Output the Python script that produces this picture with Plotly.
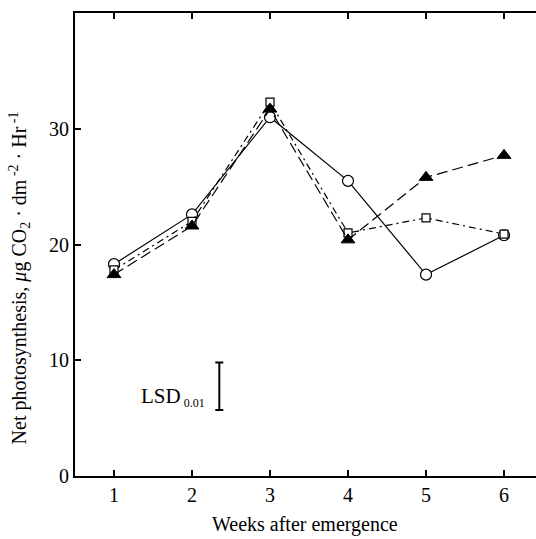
import plotly.graph_objects as go

weeks = [1, 2, 3, 4, 5, 6]
circle_vals = [18.3, 22.6, 31.0, 25.5, 17.4, 20.8]
square_vals = [17.8, 22.0, 32.3, 21.0, 22.3, 20.9]
triangle_vals = [17.4, 21.6, 31.7, 20.4, 25.8, 27.7]
lsd_value = 4.1
lsd_x = 2.35
lsd_center = 7.75

x_ticks = [1, 2, 3, 4, 5, 6]
y_ticks = [0, 10, 20, 30]

FONT = "Liberation Serif"
fig = go.Figure()

fig.add_trace(go.Scatter(
    x=weeks, y=circle_vals, mode="lines+markers",
    line=dict(color="black", width=1.2),
    marker=dict(symbol="circle", size=11, color="white", line=dict(color="black", width=1.2)),
    showlegend=False))
fig.add_trace(go.Scatter(
    x=weeks, y=square_vals, mode="lines+markers",
    line=dict(color="black", width=1.2, dash="7px,4px,2px,4px"),
    marker=dict(symbol="square", size=8, color="white", line=dict(color="black", width=1.2)),
    showlegend=False))
fig.add_trace(go.Scatter(
    x=weeks, y=triangle_vals, mode="lines+markers",
    line=dict(color="black", width=1.2, dash="11px,5px"),
    marker=dict(symbol="triangle-up", size=12, color="black", line=dict(color="black", width=1)),
    showlegend=False))

# LSD bar
fig.add_trace(go.Scatter(
    x=[lsd_x], y=[lsd_center], mode="markers",
    marker=dict(size=1, color="black", opacity=0),
    error_y=dict(type="data", array=[lsd_value / 2], visible=True,
                 color="black", thickness=2, width=4),
    showlegend=False, hoverinfo="skip"))

fig.add_annotation(
    x=lsd_x - 0.16, y=lsd_center - 0.9, xref="x", yref="y",
    text="LSD<sub><span style='font-size:12px'> 0.01</span></sub>", showarrow=False,
    xanchor="right", yanchor="middle",
    font=dict(family=FONT, size=21, color="black"))

fig.add_annotation(
    x=-55 / 461, y=(476 - 278) / 464, xref="paper", yref="paper",
    text="Net photosynthesis, <i>μ</i>g CO<sub>2</sub> · dm<sup> -2</sup> · Hr<sup> -1</sup>",
    textangle=-90, showarrow=False, xanchor="center", yanchor="middle",
    font=dict(family=FONT, size=20, color="black"))

fig.add_annotation(
    x=(305 - 75) / 461, y=(476 - 525) / 464, xref="paper", yref="paper",
    text="Weeks after emergence", showarrow=False, xanchor="center", yanchor="middle",
    font=dict(family=FONT, size=20, color="black"))

fig.update_layout(
    width=536, height=539,
    margin=dict(l=75, r=0, t=13, b=63),
    paper_bgcolor="white", plot_bgcolor="white",
    font=dict(family=FONT, size=20, color="black"),
    xaxis=dict(range=[0.5, 6.41], tickvals=x_ticks, ticktext=[str(v) for v in x_ticks],
               ticks="inside", ticklen=6, tickwidth=1.5, tickcolor="black",
               showline=True, linecolor="black", linewidth=2, mirror="ticks",
               showgrid=False, zeroline=False, fixedrange=True),
    yaxis=dict(range=[0, 40], tickvals=y_ticks, ticktext=[str(v) for v in y_ticks],
               ticks="inside", ticklen=6, tickwidth=1.5, tickcolor="black",
               showline=True, linecolor="black", linewidth=2, mirror=False,
               showgrid=False, zeroline=False, fixedrange=True),
)

fig.write_html(
    "out.html",
    config={"displayModeBar": False},
    post_script="document.body.style.margin='0';document.body.style.overflow='hidden';",
)
